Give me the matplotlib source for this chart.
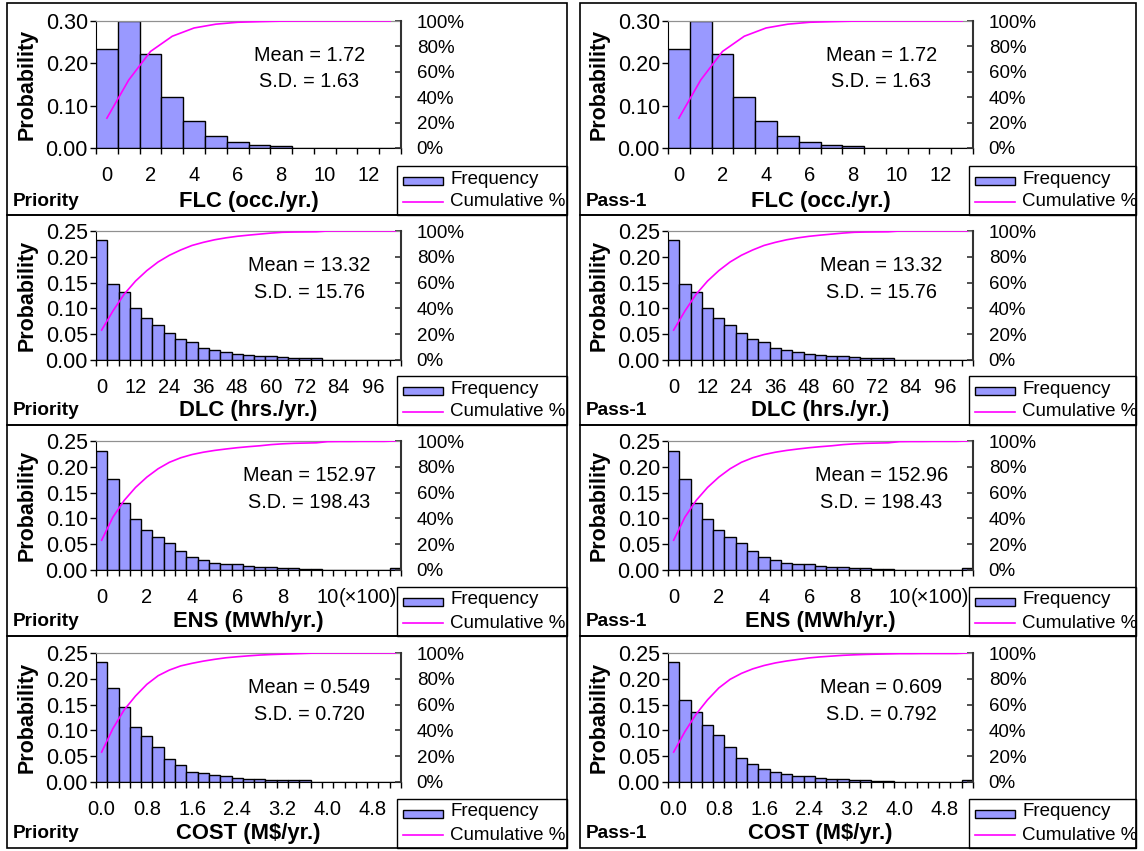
import numpy as np
import matplotlib
matplotlib.use("Agg")
import matplotlib.pyplot as plt
from matplotlib.patches import Rectangle
from matplotlib.lines import Line2D
import matplotlib.transforms as mtransforms

plt.rcParams['font.family'] = ['Liberation Sans', 'DejaVu Sans']

# ---------------- data ----------------
flc_cats = [0, 1, 2, 3, 4, 5, 6, 7, 8, 9, 10, 11, 12, 13]
flc_labels = ["0", "", "2", "", "4", "", "6", "", "8", "", "10", "", "12", ""]
dlc_cats = [0, 4, 8, 12, 16, 20, 24, 28, 32, 36, 40, 44, 48, 52, 56, 60, 64, 68, 72, 76,
            80, 84, 88, 92, 96, 100, 104]
dlc_labels = ["0", "", "", "12", "", "", "24", "", "", "36", "", "", "48", "", "", "60", "", "",
              "72", "", "", "84", "", "", "96", "", ""]
ens_cats = [0, 0.5, 1, 1.5, 2, 2.5, 3, 3.5, 4, 4.5, 5, 5.5, 6, 6.5, 7, 7.5, 8, 8.5, 9, 9.5,
            10, 10.5, 11, 11.5, 12, 12.5, 13]
ens_labels = ["0", "", "", "", "2", "", "", "", "4", "", "", "", "6", "", "", "", "8", "", "", "",
              "10", "", "", "", "", "", ""]
cost_cats = [0.0, 0.2, 0.4, 0.6, 0.8, 1.0, 1.2, 1.4, 1.6, 1.8, 2.0, 2.2, 2.4, 2.6, 2.8, 3.0,
             3.2, 3.4, 3.6, 3.8, 4.0, 4.2, 4.4, 4.6, 4.8, 5.0, 5.2]
cost_labels = ["0.0", "", "", "", "0.8", "", "", "", "1.6", "", "", "", "2.4", "", "", "",
               "3.2", "", "", "", "4.0", "", "", "", "4.8", "", ""]

flc_freq_priority = [0.233, 0.300, 0.222, 0.120, 0.064, 0.029, 0.014, 0.007, 0.004, 0, 0, 0, 0, 0]
flc_cum_priority = [0.235, 0.535, 0.760, 0.880, 0.945, 0.975, 0.990, 0.995, 0.999, 1, 1, 1, 1, 1]
flc_freq_pass1 = [0.233, 0.300, 0.222, 0.120, 0.064, 0.029, 0.014, 0.007, 0.004, 0, 0, 0, 0, 0]
flc_cum_pass1 = [0.235, 0.535, 0.760, 0.880, 0.945, 0.975, 0.990, 0.995, 0.999, 1, 1, 1, 1, 1]

dlc_freq_priority = [0.232, 0.148, 0.131, 0.101, 0.081, 0.067, 0.052, 0.041, 0.035, 0.024,
                     0.020, 0.015, 0.012, 0.009, 0.0085, 0.0085, 0.0065, 0.003, 0.003, 0.003,
                     0, 0, 0, 0, 0, 0, 0]
dlc_cum_priority = [0.232, 0.380, 0.511, 0.612, 0.693, 0.760, 0.812, 0.853, 0.888, 0.912,
                    0.932, 0.947, 0.959, 0.968, 0.976, 0.984, 0.990, 0.992, 0.993, 0.994,
                    1.0, 1.0, 1.0, 1.0, 1.0, 1.0, 1.0]
dlc_freq_pass1 = list(dlc_freq_priority)
dlc_cum_pass1 = list(dlc_cum_priority)

ens_freq_priority = [0.231, 0.176, 0.130, 0.098, 0.078, 0.063, 0.052, 0.037, 0.026, 0.019,
                     0.014, 0.011, 0.011, 0.008, 0.006, 0.006, 0.003, 0.003, 0.002, 0.002,
                     0, 0, 0, 0, 0, 0, 0.003]
ens_cum_priority = [0.231, 0.410, 0.540, 0.640, 0.720, 0.785, 0.835, 0.870, 0.895, 0.913,
                    0.927, 0.938, 0.948, 0.956, 0.963, 0.972, 0.978, 0.982, 0.984, 0.986,
                    0.995, 0.996, 0.996, 0.997, 0.997, 0.997, 1.0]
ens_freq_pass1 = list(ens_freq_priority)
ens_cum_pass1 = list(ens_cum_priority)

cost_freq_priority = [0.232, 0.183, 0.145, 0.107, 0.090, 0.067, 0.044, 0.032, 0.020, 0.017,
                      0.014, 0.012, 0.0085, 0.0065, 0.0065, 0.003, 0.003, 0.003, 0.003,
                      0, 0, 0, 0, 0, 0, 0, 0]
cost_cum_priority = [0.232, 0.415, 0.560, 0.667, 0.757, 0.824, 0.868, 0.900, 0.920, 0.937,
                     0.951, 0.963, 0.971, 0.978, 0.984, 0.988, 0.991, 0.994, 0.997,
                     1.0, 1.0, 1.0, 1.0, 1.0, 1.0, 1.0, 1.0]
cost_freq_pass1 = [0.232, 0.159, 0.136, 0.110, 0.092, 0.067, 0.046, 0.035, 0.026, 0.020,
                   0.015, 0.012, 0.012, 0.0085, 0.006, 0.006, 0.003, 0.003, 0.002, 0.002,
                   0, 0, 0, 0, 0, 0, 0.004]
cost_cum_pass1 = [0.232, 0.391, 0.527, 0.637, 0.729, 0.796, 0.842, 0.877, 0.903, 0.923,
                  0.938, 0.950, 0.962, 0.970, 0.976, 0.982, 0.986, 0.989, 0.991, 0.993,
                  0.995, 0.995, 0.996, 0.996, 0.996, 0.996, 1.0]

x_titles = ["FLC (occ./yr.)", "DLC (hrs./yr.)", "ENS (MWh/yr.)", "COST (M$/yr.)"]
col_tags = ["Priority", "Pass-1"]
means = [["1.72", "1.72"], ["13.32", "13.32"], ["152.97", "152.96"], ["0.549", "0.609"]]
sds = [["1.63", "1.63"], ["15.76", "15.76"], ["198.43", "198.43"], ["0.720", "0.792"]]
y_max = [0.30, 0.25, 0.25, 0.25]
y_step = [0.10, 0.05, 0.05, 0.05]
pct_ticks = [0, 0.2, 0.4, 0.6, 0.8, 1.0]
pct_labels = ["0%", "20%", "40%", "60%", "80%", "100%"]
legend_labels = ["Frequency", "Cumulative %"]

row_cats = [flc_cats, dlc_cats, ens_cats, cost_cats]
row_labels = [flc_labels, dlc_labels, ens_labels, cost_labels]
freqs = [[flc_freq_priority, flc_freq_pass1], [dlc_freq_priority, dlc_freq_pass1],
         [ens_freq_priority, ens_freq_pass1], [cost_freq_priority, cost_freq_pass1]]
cums = [[flc_cum_priority, flc_cum_pass1], [dlc_cum_priority, dlc_cum_pass1],
        [ens_cum_priority, ens_cum_pass1], [cost_cum_priority, cost_cum_pass1]]

# ---------------- layout (pixels) ----------------
W, H = 1144, 851
fig = plt.figure(figsize=(W / 100, H / 100), dpi=100)


def fx(p):
    return p / W


def fy(p):
    return 1 - p / H


ax_tops = [21, 231, 441, 653]
ax_heights = [127, 129, 129, 129]
panel_tops = [3, 215, 425, 636]
panel_bots = [215, 425, 636, 848]
ax_lefts = [96, 668]
ax_width = 305
panel_lefts = [7, 580]
panel_rights = [567, 1136]

BAR = '#9999FF'
MAG = '#FF00FF'
AXGREY = '#333333'

# panel frames and legends first (below the axes)
for r in range(4):
    for c in range(2):
        pb = panel_bots[r]
        fig.add_artist(Rectangle((fx(panel_lefts[c]), fy(pb)),
                                 (panel_rights[c] - panel_lefts[c]) / W,
                                 (pb - panel_tops[r]) / H,
                                 transform=fig.transFigure, fill=False,
                                 ec='black', lw=1.2, zorder=-2))
        lx0 = ax_lefts[c] + ax_width - 4
        lt = pb - 49
        fig.add_artist(Rectangle((fx(lx0), fy(pb)), (panel_rights[c] - lx0) / W, 49 / H,
                                 transform=fig.transFigure, fill=False,
                                 ec='black', lw=1.0, zorder=-2))
        fig.add_artist(Rectangle((fx(lx0 + 6), fy(lt + 19)), 40 / W, 8 / H,
                                 transform=fig.transFigure, fc=BAR, ec='black', lw=1.0))
        fig.add_artist(Line2D([fx(lx0 + 6), fx(lx0 + 46)], [fy(lt + 36), fy(lt + 36)],
                              transform=fig.transFigure, color=MAG, lw=1.2))
        fig.text(fx(lx0 + 53), fy(lt + 13), legend_labels[0], ha='left', va='center',
                 fontsize=13.5)
        fig.text(fx(lx0 + 53), fy(lt + 36), legend_labels[1], ha='left', va='center',
                 fontsize=13.5)

for r in range(4):
    for c in range(2):
        top, h = ax_tops[r], ax_heights[r]
        left = ax_lefts[c]
        pb = panel_bots[r]
        ax = fig.add_axes([fx(left), fy(top + h), ax_width / W, h / H])
        n = len(row_cats[r])
        x = np.arange(n)
        ax.bar(x, freqs[r][c], width=1.0, color=BAR, edgecolor='black', linewidth=1.0, zorder=2)
        ax.set_xlim(-0.5, n - 0.5)
        ax.set_ylim(0, y_max[r])
        yt = np.arange(0, y_max[r] + 1e-9, y_step[r])
        ax.set_yticks(yt)
        ax.set_yticklabels([f"{v:.2f}" for v in yt])
        ax.tick_params(axis='y', direction='out', length=4.3, width=1, pad=1.5, labelsize=15.5)
        ax.set_xticks(x)
        ax.set_xticklabels(row_labels[r])
        ax.set_xticks(np.arange(n + 1) - 0.5, minor=True)
        ax.tick_params(axis='x', which='major', length=0, pad=13, labelsize=14.5)
        ax.tick_params(axis='x', which='minor', direction='out', length=4.3, width=1)
        ax.spines['top'].set_color('#909090')
        ax.spines['right'].set_visible(False)
        ax.spines['left'].set_color('black')
        ax.spines['bottom'].set_color('black')

        ax2 = ax.twinx()
        ax2.plot(x, cums[r][c], color=MAG, lw=1.2, zorder=3)
        ax2.set_ylim(0, 1)
        ax2.set_yticks(pct_ticks)
        ax2.set_yticklabels(pct_labels)
        ax2.yaxis.set_ticks_position('right')
        ax2.tick_params(axis='y', direction='in', length=4, width=1.2, pad=11.3,
                        labelsize=13.5, color=AXGREY)
        ax2.spines['right'].set_visible(True)
        ax2.spines['right'].set_color(AXGREY)
        ax2.spines['right'].set_linewidth(1.5)
        ax2.spines['right'].set_zorder(5)
        ax2.spines['top'].set_color('#909090')
        ax2.spines['left'].set_visible(False)
        ax2.spines['bottom'].set_visible(False)

        ax2.text(0.70, 0.73, f"Mean = {means[r][c]}", transform=ax2.transAxes,
                 ha='center', va='center', fontsize=14.3)
        ax2.text(0.70, 0.52, f"S.D. = {sds[r][c]}", transform=ax2.transAxes,
                 ha='center', va='center', fontsize=14.3)

        if r == 2:
            trans = mtransforms.blended_transform_factory(ax.transData, ax.transAxes)
            ax.annotate("(\u00d7100)", xy=(20, 0), xycoords=trans,
                        xytext=(8.0, -19.5), textcoords='offset points',
                        ha='left', va='center', fontsize=14.5, annotation_clip=False)

        fig.text(fx(left + ax_width / 2), fy(pb - 14), x_titles[r], ha='center', va='center',
                 fontsize=15.8, fontweight='bold')
        fig.text(fx(panel_lefts[c] + 6), fy(pb - 14), col_tags[c], ha='left', va='center',
                 fontsize=13.7, fontweight='bold')
        fig.text(fx(left - 69), fy(top + h / 2), "Probability", rotation=90,
                 ha='center', va='center', fontsize=15.5, fontweight='bold')

fig.savefig("out.png", dpi=100)
